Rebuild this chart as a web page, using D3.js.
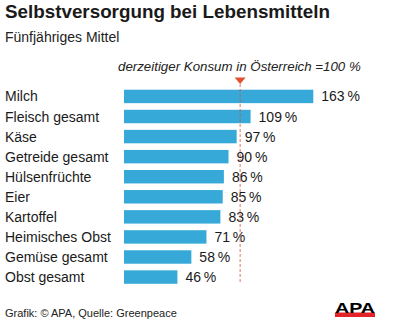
<!DOCTYPE html>
<html>
<head>
<meta charset="utf-8">
<script src="https://cdn.jsdelivr.net/npm/d3@7"></script>
<style>
  html, body { margin: 0; padding: 0; background: #fff; }
  svg { display: block; font-family: "Liberation Sans", Arial, sans-serif; }
</style>
</head>
<body>
<div id="chart"></div>
<script>
// Selbstversorgungsgrad, fünfjähriges Mittel
const categories = ["Milch", "Fleisch gesamt", "Käse", "Getreide gesamt", "Hülsenfrüchte",
  "Eier", "Kartoffel", "Heimisches Obst", "Gemüse gesamt", "Obst gesamt"];
const values = [163, 109, 97, 90, 86, 85, 83, 71, 58, 46];
const referenceValue = 100;

const width = 393, height = 328;

const svg = d3.select("#chart").append("svg")
  .attr("width", width)
  .attr("height", height);

// titles
svg.append("text")
  .attr("x", 5).attr("y", 17.5)
  .attr("font-size", 17.8).attr("font-weight", "bold").attr("fill", "#1a1a1a")
  .attr("textLength", 325).attr("lengthAdjust", "spacingAndGlyphs")
  .text("Selbstversorgung bei Lebensmitteln");

svg.append("text")
  .attr("x", 5).attr("y", 41.7)
  .attr("font-size", 14).attr("fill", "#222")
  .text("Fünfjähriges Mittel");

// scales
const x = d3.scaleLinear().domain([0, 163]).range([124, 313.3]);
const y = d3.scaleBand().domain(categories).range([86.5, 287]).paddingInner(0.33).paddingOuter(0.16);

const rows = svg.append("g");

rows.selectAll("rect")
  .data(categories)
  .join("rect")
  .attr("x", x(0))
  .attr("y", d => y(d))
  .attr("width", (d, i) => x(values[i]) - x(0))
  .attr("height", y.bandwidth())
  .attr("fill", "#36a9d8");

rows.selectAll("text.cat")
  .data(categories)
  .join("text")
  .attr("class", "cat")
  .attr("x", 5)
  .attr("y", d => y(d) + y.bandwidth() / 2)
  .attr("dy", "0.36em")
  .attr("font-size", 14)
  .attr("fill", "#1a1a1a")
  .text(d => d);

rows.selectAll("text.val")
  .data(categories)
  .join("text")
  .attr("class", "val")
  .attr("x", (d, i) => x(values[i]) + 8)
  .attr("y", d => y(d) + y.bandwidth() / 2)
  .attr("dy", "0.36em")
  .attr("font-size", 14)
  .attr("fill", "#1a1a1a")
  .text((d, i) => values[i] + "\u2009%");

// 100 % reference line and marker
const xr = x(referenceValue);
svg.append("line")
  .attr("x1", xr).attr("x2", xr)
  .attr("y1", 84).attr("y2", 284)
  .attr("stroke", "#d9533a").attr("stroke-width", 1)
  .attr("stroke-dasharray", "3,2")
  .attr("opacity", 0.8);

svg.append("path")
  .attr("d", `M${xr - 5.5},77.5 L${xr + 5.5},77.5 L${xr},84 Z`)
  .attr("fill", "#e0502f");

svg.append("text")
  .attr("x", 118).attr("y", 71)
  .attr("font-size", 13.3).attr("font-style", "italic").attr("fill", "#222")
  .text("derzeitiger Konsum in Österreich =100 %");

// footer
svg.append("text")
  .attr("x", 5).attr("y", 317)
  .attr("font-size", 11).attr("fill", "#222")
  .text("Grafik: © APA, Quelle: Greenpeace");

// APA logo
svg.append("rect")
  .attr("x", 335).attr("y", 312.5).attr("width", 40).attr("height", 4.5)
  .attr("fill", "#e3232a");
svg.append("text")
  .attr("x", 355).attr("y", 312.8)
  .attr("text-anchor", "middle")
  .attr("font-size", 14).attr("font-weight", "bold").attr("fill", "#000")
  .attr("textLength", 40).attr("lengthAdjust", "spacingAndGlyphs")
  .text("APA");
</script>
</body>
</html>
